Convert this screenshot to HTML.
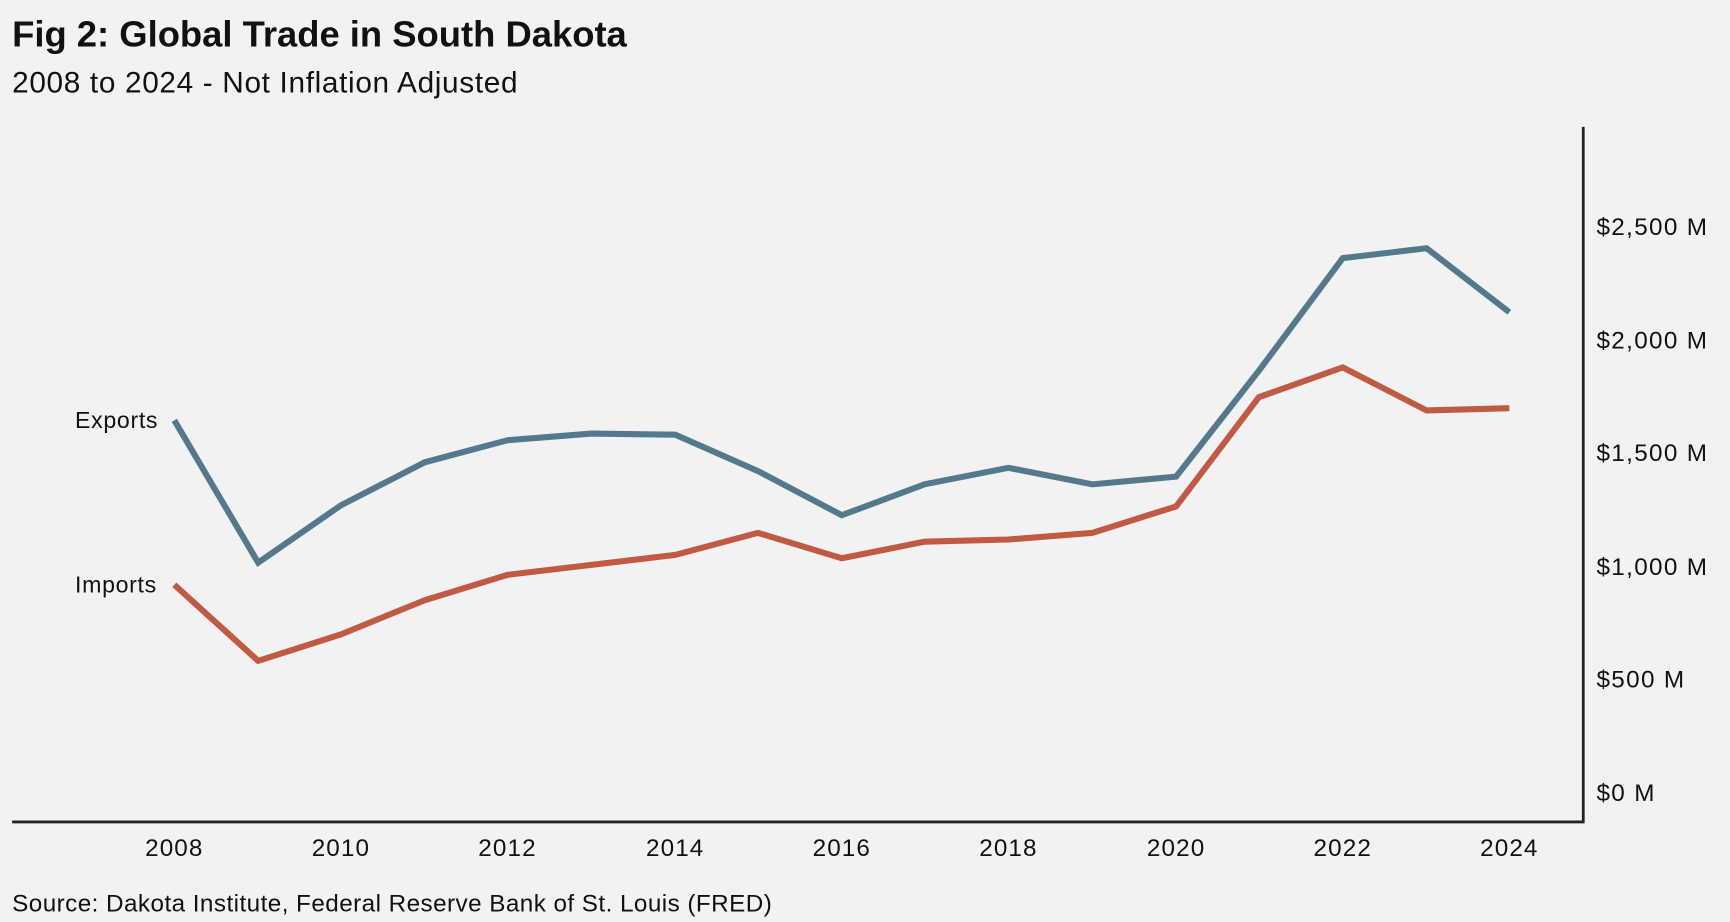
<!DOCTYPE html>
<html><head><meta charset="utf-8"><style>
html,body{margin:0;padding:0;background:#f2f2f2;}
svg{display:block;}
text{font-family:"Liberation Sans",sans-serif;fill:#111;}
</style></head><body>
<svg width="1730" height="922" viewBox="0 0 1568 835.7" preserveAspectRatio="none">
<rect x="0" y="0" width="1568" height="835.7" fill="#f2f2f2"/>
<text x="11" y="42" font-size="33" font-weight="bold" letter-spacing="0">Fig 2: Global Trade in South Dakota</text>
<text x="11" y="84" font-size="27" fill="#222" letter-spacing="0.6">2008 to 2024 - Not Inflation Adjusted</text>
<line x1="1435" y1="115" x2="1435" y2="746" stroke="#222" stroke-width="2.5"/>
<line x1="11" y1="745" x2="1436" y2="745" stroke="#222" stroke-width="2.5"/>
<g font-size="22" letter-spacing="1.2">
<text x="1447" y="213">$2,500 M</text>
<text x="1447" y="316">$2,000 M</text>
<text x="1447" y="418">$1,500 M</text>
<text x="1447" y="521">$1,000 M</text>
<text x="1447" y="623">$500 M</text>
<text x="1447" y="726">$0 M</text>
</g>
<g font-size="22" text-anchor="middle" letter-spacing="1">
<text x="158" y="776">2008</text>
<text x="309" y="776">2010</text>
<text x="460" y="776">2012</text>
<text x="612" y="776">2014</text>
<text x="763" y="776">2016</text>
<text x="914" y="776">2018</text>
<text x="1066" y="776">2020</text>
<text x="1217" y="776">2022</text>
<text x="1368" y="776">2024</text>
</g>
<text x="68" y="388" font-size="21" letter-spacing="0.6">Exports</text>
<text x="68" y="537" font-size="21" letter-spacing="0.6">Imports</text>
<polyline fill="none" stroke="#537a8c" stroke-width="5.5" points="158,381 234,510 309,458 385,419 460,399 536,393 612,394 687,427 763,467 838,439 914,424 990,439 1066,432 1141,336 1217,234 1293,225 1368,283"/>
<polyline fill="none" stroke="#c05a42" stroke-width="5.5" points="158,530 234,599 309,575 385,544 460,521 536,512 612,503 687,483 763,506 838,491 914,489 990,483 1066,459 1141,360 1217,333 1293,372 1368,370"/>
<text x="11" y="826" font-size="22" letter-spacing="0.4">Source: Dakota Institute, Federal Reserve Bank of St. Louis (FRED)</text>
</svg>
</body></html>
